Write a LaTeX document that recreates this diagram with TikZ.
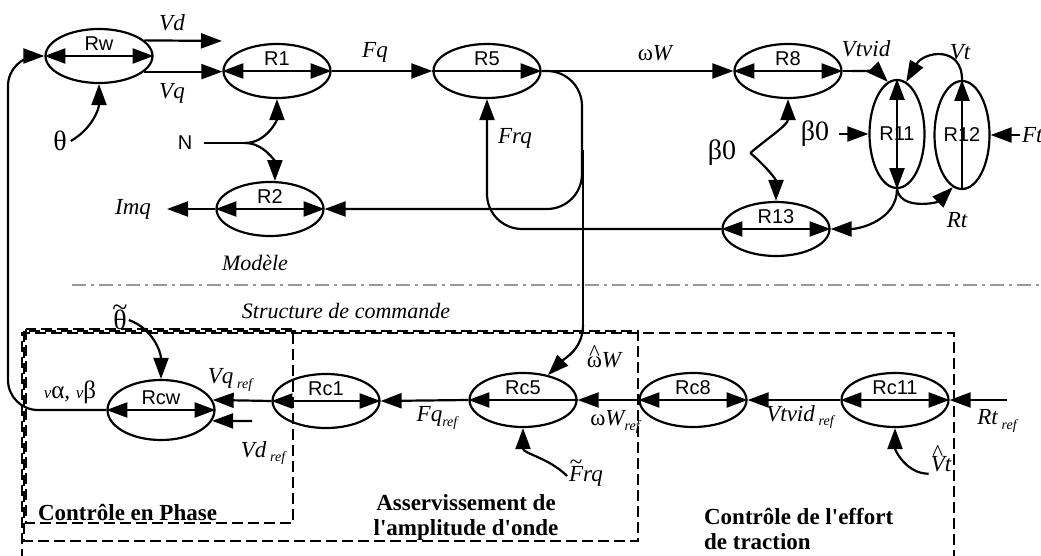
\documentclass[tikz,border=0pt]{standalone}
\usepackage{fontspec}
\setmainfont{Liberation Serif}
\setsansfont{Liberation Sans}
\usetikzlibrary{shapes.geometric,arrows.meta}

\newcommand{\rsub}[1]{\raisebox{-0.45ex}{\fontsize{14}{14}\selectfont\itshape #1}}
\newcommand{\accon}[3]{\ooalign{#3\cr\hidewidth\raisebox{#2}{\upshape #1}\hidewidth\cr}}

\begin{document}
\begin{tikzpicture}[x=1pt,y=1pt,
		line width=2.2pt,
		>={Triangle[length=21pt,width=15pt]},
		rtxt/.style={font=\fontsize{20}{22}\selectfont\sffamily,inner sep=0pt},
		rel/.style={ellipse,draw,minimum width=107pt,minimum height=54pt,inner sep=0pt,
			label={[rtxt,yshift=12pt]center:#1}},
		rvert/.style={ellipse,draw,minimum width=55pt,minimum height=108pt,inner sep=0pt,
			label={[rtxt]center:#1}},
		lbl/.style={font=\fontsize{23}{25}\selectfont\itshape,inner sep=1pt},
		grk/.style={font=\fontsize{28}{30}\selectfont,inner sep=1pt},
		zone/.style={line width=1.1pt,dash pattern=on 11pt off 5pt},
		zonetxt/.style={font=\fontsize{23}{25}\selectfont\bfseries,inner sep=0pt}]
		\useasboundingbox (0,0) rectangle (1041,-556);
		
		% Model
		\node[rel=Rw] (Rw) at (99,-56) {};
		\node[rel=R1] (R1) at (277,-71) {};
		\node[rel=R5] (R5) at (487,-71) {};
		\node[rel=R8] (R8) at (788,-71) {};
		\node[rel=R2] (R2) at (270,-209) {};
		\node[rel=R13] (R13) at (776,-229) {};
		\node[rvert=R11] (R11) at (897,-134) {};
		\node[rvert=R12] (R12) at (962,-135) {};
		
		% Control structure
		\node[rel=Rcw,minimum height=60pt] (Rcw) at (161,-410) {};
		\node[rel=Rc1] (Rc1) at (326,-401) {};
		\node[rel=Rc5] (Rc5) at (523,-400) {};
		\node[rel=Rc8] (Rc8) at (693,-400) {};
		\node[rel=Rc11] (Rc11) at (895,-400) {};
		
		% Arrows inside the ellipses
		\foreach \r in {Rw,R1,R8,R2,R13,Rcw,Rc1,Rc8,Rc11}
			\draw[<->] (\r.west) -- (\r.east);
		\draw[->] (R5.west) -- (R5.east);
		\draw[->] (Rc5.east) -- (Rc5.west);
		\draw[<->] (R11.north) -- (R11.south);
		\draw[->] (R12.south) -- (R12.north);
		
		% Labels of the model
		\node[lbl] (Vd) at (172,-23) {Vd};
		\node[lbl] (Vq) at (172,-93) {Vq};
		\node[grk,inner xsep=3pt] (th) at (60,-141) {θ};
		\node[rtxt,inner xsep=11pt] (N) at (185,-143) {N};
		\node[lbl] (Fq) at (375,-52) {Fq};
		\node[lbl] (wW) at (655,-53) {{\upshape ω}W};
		\node[lbl] (Frq) at (515,-138) {Frq};
		\node[lbl] (Vtvid) at (866,-49) {Vtvid};
		\node[lbl] (Vt) at (960,-52) {Vt};
		\node[lbl] (Rt) at (957,-220) {Rt};
		\node[grk,inner xsep=9pt] (b0r) at (815,-134) {β0};
		\node[grk,inner xsep=13pt] (b0l) at (722,-153) {β0};
		\node[lbl,anchor=west] (Ft) at (1020,-135) {Ft};
		\node[lbl,anchor=east,inner xsep=15pt] (Imq) at (167,-209) {Imq};
		\node[lbl,font=\fontsize{22}{24}\selectfont\itshape] (Mod) at (255,-263) {Modèle};
		
		\coordinate (VdEnd) at (222,-41);
		\coordinate (Nj) at (245,-143);
		\coordinate (loopR) at (582,-209);
		\coordinate (split) at (583,-150);
		\coordinate (drop) at (583,-325);
		\coordinate (loopF) at (487,-229);
		\coordinate (vtj) at (852,-71);
		
		\draw[->] (Rw.19) -- (VdEnd);
		\draw[->] (Rw.-19) -- (Rw.-19 -| R1.west);
		\draw[->] (th.east) to[out=30,in=-90] (Rw.south);
		\draw (N.east) -- (Nj);
		\draw[->] (Nj) to[out=0,in=-90] (R1.south);
		\draw[->] (Nj) to[out=0,in=90] (R2.80);
		\draw[->] (R1.east) -- (R5.west);
		\draw[->] (R5.east) -- (R8.west);
		\draw[->,rounded corners=35pt] (R5.east) -| (loopR) -- (R2.east);
		\draw[->] (R2.west) -- (Imq.east);
		\draw[->,rounded corners=35pt] (R13.west) -- (loopF) -- (R5.south);
		\draw (R8.east) -- (vtj);
		\draw[->] (vtj) to[out=0,in=135] (R11.100);
		\draw[->] (R12.north) to[out=90,in=60,looseness=1.6] (R11.80);
		\draw[->] (R11.south) to[out=-80,in=-135] (R12.-100);
		\draw[->] (R11.south) to[out=-90,in=0] (R13.east);
		\draw[->] (b0r.east) -- (R11.west);
		\draw[->] (Ft.west) -- (R12.east);
		\draw[->] (b0l.east) to[out=40,in=-90] (R8.south);
		\draw[->] (b0l.east) to[out=-40,in=90] (R13.north);
		
		% Separation
		\draw[gray!80,line width=1.2pt,dash pattern=on 14pt off 5pt on 3pt off 5pt] (72,-285) -- (1041,-285);
		\node[lbl,font=\fontsize{22}{24}\selectfont\itshape] (Struct) at (346,-311) {Structure de commande};
		
		% Zones
		\draw[zone] (26,-329) rectangle (293,-523);
		\draw[zone] (24,-331) rectangle (638,-541);
		\draw[zone] (22,-560) |- (954,-333) -- (954,-560);
		\node[zonetxt,anchor=west] (zPh) at (37,-512) {Contrôle en Phase};
		\node[zonetxt,align=center] (zAs) at (466,-517) {Asservissement de\\l\textquotesingle amplitude d\textquotesingle onde};
		\node[zonetxt,align=left,anchor=west] (zEf) at (703,-529) {Contrôle de l\textquotesingle effort\\de traction};
		
		% Labels of the control structure
		\node[grk] (tht) at (120,-320) {\accon{\textasciitilde}{13pt}{θ}};
		\node[lbl] (vab) at (70,-392) {{\fontsize{17}{17}\selectfont v}{\upshape\fontsize{25}{25}\selectfont α}, {\fontsize{17}{17}\selectfont v}{\upshape\fontsize{25}{25}\selectfont β}};
		\node[lbl] (Vqr) at (230,-380) {Vq\,\rsub{ref}};
		\node[lbl] (Vdr) at (263,-453) {Vd\,\rsub{ref}};
		\node[lbl] (Fqr) at (437,-418) {Fq\rsub{ref}};
		\node[lbl] (wWr) at (615,-422) {{\upshape ω}W\rsub{ref}};
		\node[lbl] (whW) at (604,-360) {\accon{\textasciicircum}{7pt}{\upshape ω}W};
		\node[lbl] (Frqt) at (586,-476) {\accon{\textasciitilde}{12pt}{F}rq};
		\node[lbl] (Vth) at (941,-464) {\accon{\textasciicircum}{11pt}{V}t};
		\node[lbl] (Vtvr) at (800,-417) {Vtvid\,\rsub{ref}};
		\node[lbl] (Rtr) at (997,-421) {Rt\,\rsub{ref}};
		
		\coordinate (lt) at (8,-56);
		\coordinate (vds) at (252,-421);
		\coordinate (rts) at (1007,-400);
		
		\draw[->,rounded corners=30pt] (Rcw.west) -| (lt) -- (Rw.west);
		\draw[->] (tht.east) to[out=-20,in=90] (Rcw.north);
		\draw[->] (Rc1.west) -- (Rcw.11);
		\draw[->] (vds) -- (Rcw.-12);
		\draw[->] (Rc5.west) -- (Rc1.east);
		\draw[->] (Rc8.west) -- (Rc5.east);
		\draw[->] (Rc11.west) -- (Rc8.east);
		\draw[->] (rts) -- (Rc11.east);
		\draw (split) -- (drop);
		\draw[->] (drop) to[out=-90,in=45] (Rc5.45);
		\draw[->] (Frqt.west) to[out=135,in=-90] (Rc5.south);
		\draw[->] (Vth.south west) to[out=180,in=-90] (Rc11.south);
	\end{tikzpicture}
\end{document}
